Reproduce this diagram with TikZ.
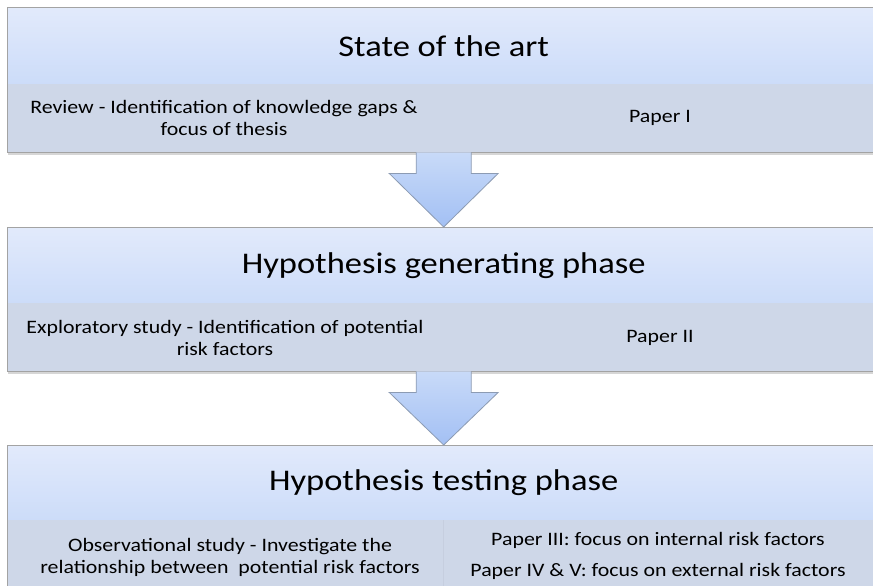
\documentclass[tikz,border=0pt]{standalone}
\usepackage{fontspec}
\setmainfont{Carlito}[FakeStretch=1.15]
\usetikzlibrary{calc}
\definecolor{topc}{HTML}{E2EAFB}
\definecolor{botc}{HTML}{CCDCF9}
\definecolor{bandc}{HTML}{CED7E8}
\definecolor{edgec}{HTML}{A3A3A3}
\definecolor{arrtop}{HTML}{C8DAF8}
\definecolor{arrbot}{HTML}{A3C0F4}
\definecolor{arredge}{HTML}{8C9BB3}
\definecolor{divc}{HTML}{C6CEDF}
\begin{document}
\begin{tikzpicture}[x=1pt,y=-1pt,
  titlearea/.style={anchor=north west, inner sep=0pt, minimum width=873pt,
    top color=topc, bottom color=botc, font=\fontsize{30}{36}\selectfont},
  bandarea/.style={anchor=north west, inner sep=0pt, minimum width=873pt,
    minimum height=68pt, fill=bandc},
  celltext/.style={align=center, inner sep=0pt, font=\fontsize{19}{22}\selectfont},
  boxedge/.style={draw=edgec, line width=0.9pt},
  shadowstrip/.style={fill=black, opacity=0.16},
  arrowfill/.style={top color=arrtop, bottom color=arrbot},
  arrowedge/.style={draw=arredge, line width=0.8pt, line join=miter}
]
\useasboundingbox (0,0) rectangle (873,586);
\clip (0,0) rectangle (873,586);
\fill[white] (0,0) rectangle (873,586);

\newcommand{\blockarrow}[2]{%
  \path[arrowfill] ($(#1)+(-27.5,0)$) -- ($(#1)+(-27.5,21)$) -- ($(#1)+(-54.5,21)$)
    -- (#2) -- ($(#1)+(54.5,21)$) -- ($(#1)+(27.5,21)$) -- ($(#1)+(27.5,0)$) -- cycle;
  \draw[arrowedge] ($(#1)+(-27.5,0)$) -- ($(#1)+(-27.5,21)$) -- ($(#1)+(-54.5,21)$)
    -- (#2) -- ($(#1)+(54.5,21)$) -- ($(#1)+(27.5,21)$) -- ($(#1)+(27.5,0)$);}

% ---- box 1
\node[titlearea, minimum height=77pt] (t1) at (7,7) {State of the art};
\node[bandarea] (b1) at (7,84) {};
\fill[shadowstrip] ($(b1.south west)+(1,0)$) rectangle ($(b1.south east)+(0,3)$);
\draw[boxedge] (t1.north west) rectangle (b1.south east);
\node[celltext] (l1) at (224,118) {Review - Identification of knowledge gaps \&\\focus of thesis};
\node[celltext] (r1) at (660,118) {Paper I};

% ---- box 2
\node[titlearea, minimum height=76pt] (t2) at (7,227) {Hypothesis generating phase};
\node[bandarea] (b2) at (7,303) {};
\fill[shadowstrip] ($(b2.south west)+(1,0)$) rectangle ($(b2.south east)+(0,3)$);
\draw[boxedge] (t2.north west) rectangle (b2.south east);
\node[celltext] (l2) at (225,338) {Exploratory study - Identification of potential\\risk factors};
\node[celltext] (r2) at (660,338) {Paper II};

% ---- box 3
\node[titlearea, minimum height=75pt] (t3) at (7,445) {\raisebox{-4pt}{Hypothesis testing phase}};
\node[bandarea, minimum height=80pt] (b3) at (7,520) {};
\draw[boxedge] (t3.north west) rectangle (b3.south east);
\draw[divc, line width=0.8pt] (443,520) -- (443,586);
\node[celltext] (l3) at (230,557) {Observational study - Investigate the\\relationship between\ \ potential risk factors};
\node[celltext, font=\fontsize{19}{31}\selectfont] (r3) at (658,556) {Paper III: focus on internal risk factors\\Paper IV \& V: focus on external risk factors};

% ---- arrows
\blockarrow{b1.south}{t2.north}
\blockarrow{b2.south}{t3.north}
\end{tikzpicture}
\end{document}
